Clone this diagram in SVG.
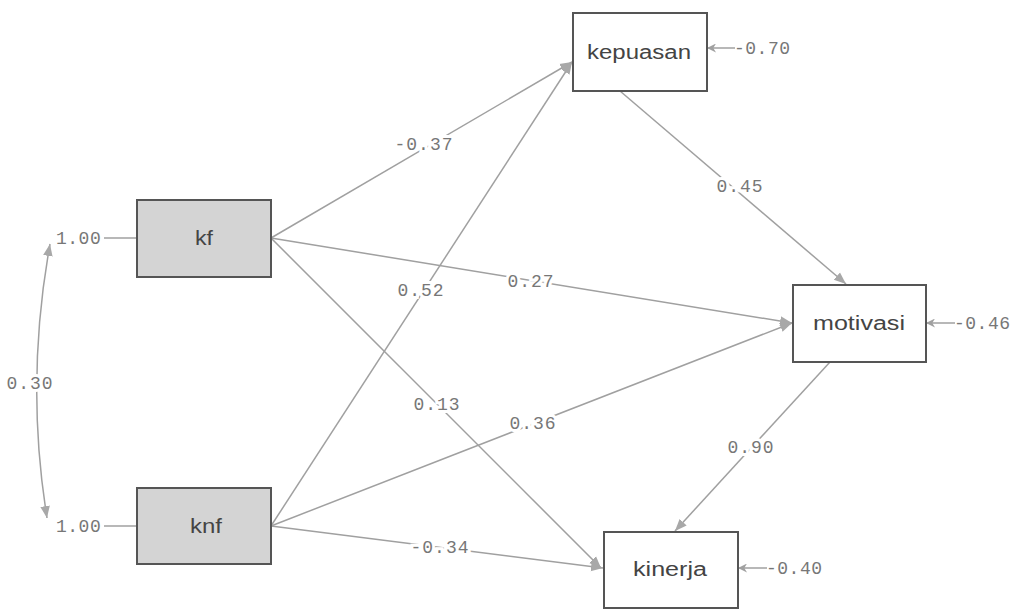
<svg xmlns="http://www.w3.org/2000/svg" width="1021" height="609" viewBox="0 0 1021 609">
<style>
.n{stroke:#555;stroke-width:2}
.obs{fill:#d4d4d4}
.lat{fill:#fff}
.nt{font-family:"Liberation Sans",Arial,sans-serif;font-size:20px;fill:#444;text-anchor:middle}
.c{stroke:#a0a0a0;stroke-width:1.5;fill:none}
.lb{font-family:"Liberation Mono","Courier New",monospace;font-size:18px;letter-spacing:1px;fill:#777;text-anchor:middle;paint-order:stroke;stroke:#fff;stroke-width:6px}
.rl{font-family:"Liberation Mono","Courier New",monospace;font-size:18px;letter-spacing:0.5px;fill:#777}
</style>
<defs>
<marker id="ah" viewBox="0 0 10 10" refX="10" refY="5" markerWidth="9" markerHeight="9" markerUnits="userSpaceOnUse" orient="auto-start-reverse">
<path d="M0,0 L10,5 L0,10 L3,5 Z" fill="#a0a0a0"/>
</marker>
<marker id="ah2" viewBox="0 0 10 10" refX="10" refY="5" markerWidth="12" markerHeight="12" markerUnits="userSpaceOnUse" orient="auto-start-reverse">
<path d="M0,1 L10,5 L0,9 Z" fill="#a8a8a8"/>
</marker>
</defs>
<g id="connectors">
<path class="c" d="M271,238 L572,62" marker-end="url(#ah2)"/>
<path class="c" d="M271,238 L792,323" marker-end="url(#ah2)"/>
<path class="c" d="M271,238 L601,568" marker-end="url(#ah2)"/>
<path class="c" d="M271,526 L572,62" marker-end="url(#ah2)"/>
<path class="c" d="M271,526 L792,323" marker-end="url(#ah2)"/>
<path class="c" d="M271,526 L603,568" marker-end="url(#ah2)"/>
<path class="c" d="M620,91 L846,284" marker-end="url(#ah2)"/>
<path class="c" d="M830,362 L675,531" marker-end="url(#ah2)"/>
<path class="c" d="M735,48 L707,48" marker-end="url(#ah)"/>
<path class="c" d="M955,323 L926,323" marker-end="url(#ah)"/>
<path class="c" d="M767,568 L738,568" marker-end="url(#ah)"/>
<path class="c" d="M104,238 L136,238"/>
<path class="c" d="M104,526 L136,526"/>
<path class="c" d="M50,244 Q25,382 47,518" marker-start="url(#ah2)" marker-end="url(#ah2)"/>
<text class="lb" x="424" y="150">-0.37</text>
<text class="lb" x="531" y="287">0.27</text>
<text class="lb" x="437" y="410">0.13</text>
<text class="lb" x="421" y="296">0.52</text>
<text class="lb" x="533" y="429">0.36</text>
<text class="lb" x="440" y="553">-0.34</text>
<text class="lb" x="740" y="192">0.45</text>
<text class="lb" x="751" y="453">0.90</text>
<text class="lb" x="30" y="389">0.30</text>
<text class="rl" x="734" y="54">-0.70</text>
<text class="rl" x="954" y="329">-0.46</text>
<text class="rl" x="766" y="574">-0.40</text>
<text class="rl" x="56" y="244">1.00</text>
<text class="rl" x="56" y="532">1.00</text>
</g>
<g id="kf"><rect class="n obs" x="137" y="200" width="134" height="77"/><text class="nt" x="204" y="245" textLength="18" lengthAdjust="spacingAndGlyphs">kf</text></g>
<g id="knf"><rect class="n obs" x="137" y="488" width="134" height="76"/><text class="nt" x="206" y="533" textLength="32" lengthAdjust="spacingAndGlyphs">knf</text></g>
<g id="kepuasan"><rect class="n lat" x="573" y="13" width="134" height="78"/><text class="nt" x="639" y="59" textLength="104" lengthAdjust="spacingAndGlyphs">kepuasan</text></g>
<g id="motivasi"><rect class="n lat" x="793" y="285" width="133" height="77"/><text class="nt" x="859" y="330" textLength="92" lengthAdjust="spacingAndGlyphs">motivasi</text></g>
<g id="kinerja"><rect class="n lat" x="604" y="532" width="134" height="76"/><text class="nt" x="670" y="576" textLength="74" lengthAdjust="spacingAndGlyphs">kinerja</text></g>
</svg>
